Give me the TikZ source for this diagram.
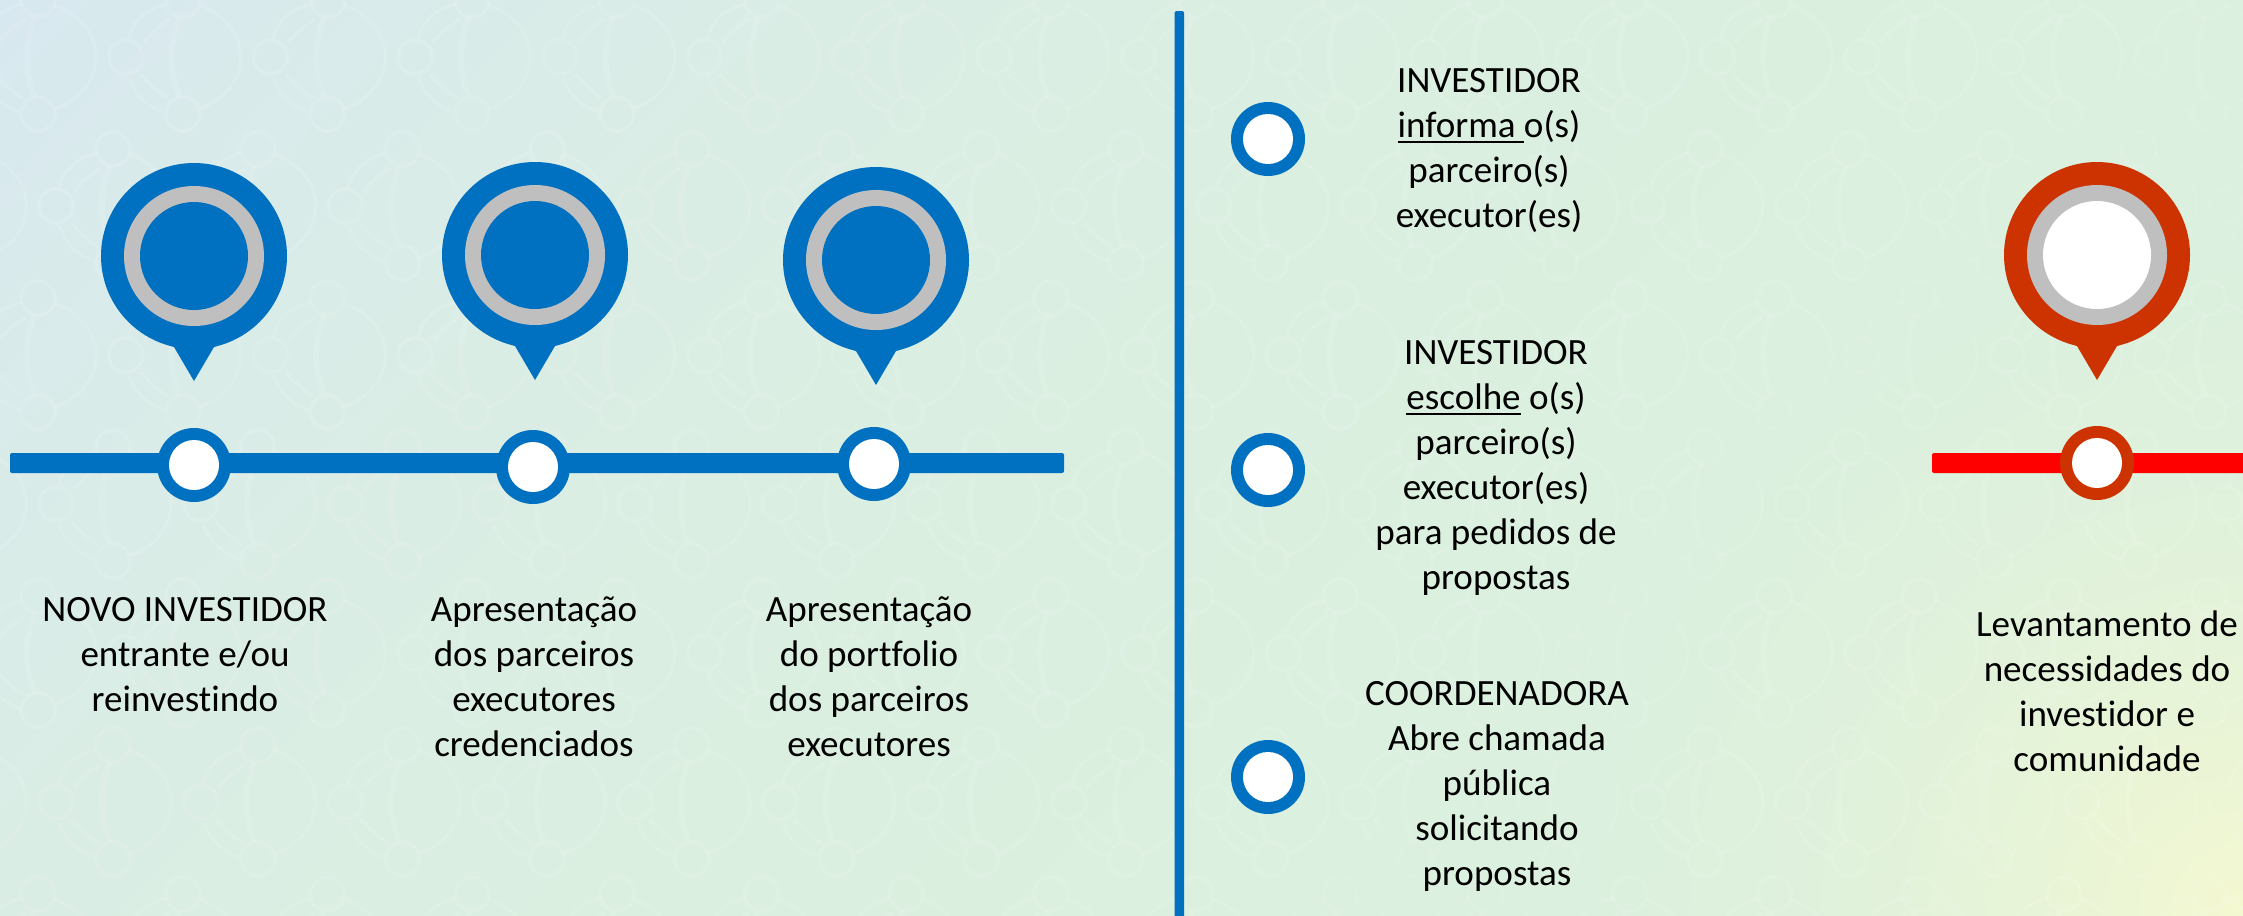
\documentclass[tikz,border=0pt]{standalone}
\usepackage{fontspec}
\setmainfont[Ligatures=NoCommon]{Carlito}
\definecolor{pinblue}{HTML}{0070C0}
\definecolor{pingrey}{HTML}{BFBFBF}
\definecolor{pinred}{HTML}{CC3300}
\definecolor{barred}{HTML}{FF0000}
\pgfdeclarefunctionalshading{bgshade}{\pgfpoint{-2bp}{-2bp}}{\pgfpoint{2245bp}{917bp}}{}{
  2 copy 915 exch sub 915 div 0.4 mul exch 2243 div add 1.4 div
  1 exch sub dup dup mul mul
  3 1 roll dup mul exch 2243 exch sub dup mul add sqrt
  750 div 1 exch sub dup 0 lt {pop 0} if dup mul
  2 copy exch 3 mul 219 exch sub exch 1 exch sub mul 1 index 244 mul add 255 div 3 1 roll
  2 copy exch 8 mul 240 exch sub exch 1 exch sub mul 1 index 248 mul add 255 div 3 1 roll
  exch 18 mul 222 add 1 index 1 exch sub mul exch 208 mul add 255 div
}
\newcommand\myul[1]{\setbox0\hbox{#1}\rlap{\rule[-6pt]{\wd0}{2pt}}\box0 }
\newcommand\firstline{\rule{0pt}{30pt}}
\tikzset{
  blob/.style={circle,inner sep=0pt,minimum size=#1*2bp},
  label text/.style={inner sep=0pt,anchor=north,align=center,text=black,
    font=\fontsize{37.2}{45.2}\selectfont},
  bar/.style={rounded corners=2bp},
  motif/.pic={
    \begin{scope}[draw=white,draw opacity=0.11,fill=none]
      \draw[line width=4bp] (0,-57) circle[radius=17bp];
      \draw[line width=4bp] (0,57) circle[radius=17bp];
      \draw[line width=4bp] (-57,0) circle[radius=17bp];
      \draw[line width=3.5bp] (16,-52) .. controls (45,-42) and (58,-20) .. (58,0)
        .. controls (58,20) and (45,42) .. (16,52);
      \draw[line width=6bp] (-3,-40) .. controls (-14,-15) and (-14,15) .. (-3,40);
      \draw[line width=3.5bp] (-54,-18) .. controls (-50,-38) and (-35,-48) .. (-16,-53);
      \draw[line width=4bp] (-39,-14) .. controls (-32,-24) and (-22,-32) .. (-12,-38);
      \draw[line width=3.5bp] (-54,20) .. controls (-48,38) and (-35,50) .. (-18,55);
      \draw[line width=4bp] (-42,17) .. controls (-34,26) and (-26,34) .. (-15,41);
    \end{scope}
  },
}
\begin{document}
\begin{tikzpicture}[x=1bp,y=-1bp]
\useasboundingbox (0,0) rectangle (2243,915);
\node[inner sep=0pt,outer sep=0pt,anchor=north west] (bg) at (-2,-2) {\pgfuseshading{bgshade}};
% watermark pattern
\foreach \r in {-1,...,6}{
  \pgfmathsetmacro\ly{57+149*\r}
  \pgfmathsetmacro\xo{iseven(\r+2)?38:113}
  \foreach \k in {-1,...,16}{
    \pgfmathsetmacro\tx{\xo+144.7*\k}
    \pic at (\tx,\ly) {motif};
  }
}
% left bar
\fill[pinblue,bar] (10,453) rectangle (1064,473);
% pins
\foreach \nm/\cx/\cy/\tipc/\core in {pa/194/256/pinblue/pinblue,pb/535/255/pinblue/pinblue,pc/876/260/pinblue/pinblue,pd/2097/255/pinred/white}{
  \node[blob=93,fill=\tipc] (\nm o) at (\cx,\cy) {};
  \fill[\tipc,shift={(\cx,\cy)}] (-33,86) -- (-20,91) -- (0,125) -- (20,91) -- (33,86) -- cycle;
  \node[blob=70,fill=pingrey] (\nm g) at (\cx,\cy) {};
  \node[blob=54,fill=\core] (\nm i) at (\cx,\cy) {};
}
% small markers on left bar
\foreach \nm/\cx/\cy in {ma/194/465,mb/533/467,mc/874/464}{
  \node[blob=37,fill=pinblue] (\nm o) at (\cx,\cy) {};
  \node[blob=25,fill=white] (\nm i) at (\cx,\cy) {};
}
% divider
\fill[pinblue,rounded corners=1.5bp] (1174.5,11) rectangle (1184,930);
% right column markers
\foreach \nm/\cx/\cy in {md/1268/139,me/1268/470,mf/1268/777}{
  \node[blob=37,fill=pinblue] (\nm o) at (\cx,\cy) {};
  \node[blob=25,fill=white] (\nm i) at (\cx,\cy) {};
}
% red bar
\fill[barred,bar] (1932,453) rectangle (2260,473);
\node[blob=37,fill=pinred] (mgo) at (2097,463) {};
\node[blob=25,fill=white] (mgi) at (2097,463) {};
% texts
\node[label text] (ta) at (185,591) {\firstline NOVO INVESTIDOR\\entrante e/ou\\reinvestindo};
\node[label text] (tb) at (534,591) {\firstline Apresentação\\dos parceiros\\executores\\credenciados};
\node[label text] (tc) at (869,591) {\firstline Apresentação\\do portfolio\\dos parceiros\\executores};
\node[label text] (td) at (1489,62) {\firstline INVESTIDOR\\\myul{informa\ }o(s)\\parceiro(s)\\executor(es)};
\node[label text] (te) at (1496,334) {\firstline INVESTIDOR\\\myul{escolhe} o(s)\\parceiro(s)\\executor(es)\\para pedidos de\\propostas};
\node[label text] (tf) at (1497,675) {\firstline COORDENADORA\\Abre chamada\\pública\\solicitando\\propostas};
\node[label text] (tg) at (2107,606.5) {\firstline Levantamento de\\necessidades do\\investidor e\\comunidade};
\end{tikzpicture}
\end{document}
